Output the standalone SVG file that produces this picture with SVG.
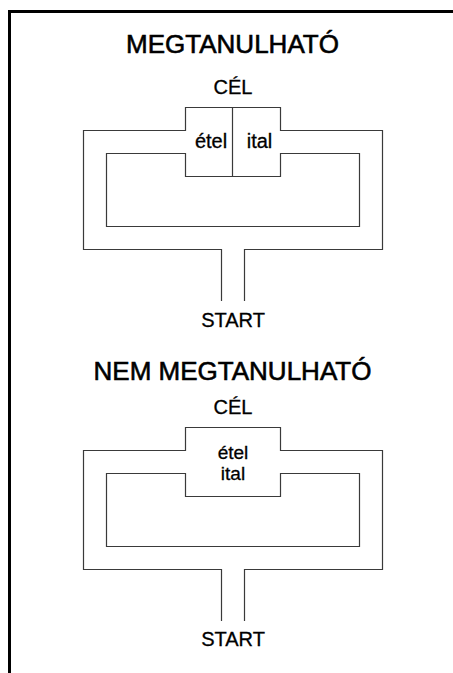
<svg xmlns="http://www.w3.org/2000/svg" width="453" height="673" viewBox="0 0 453 673">
<style>
text{font-family:"Liberation Sans",Arial,sans-serif;fill:#000;text-anchor:middle;stroke:#000}
.title{font-size:26px;stroke-width:0.6}
.lbl{font-size:20px;stroke-width:0.3}
.sm{font-size:19px}
.maze{fill:none;stroke:#3a3a3a;stroke-width:1.2}
.frame{fill:none;stroke:#000;stroke-width:3}
</style>
<rect width="453" height="673" fill="#fff"/>
<path class="frame" d="M9.5,673 V11.5 H453"/>
<g id="learnable">
<text class="title" x="232.5" y="52.5">MEGTANULHATÓ</text>
<text class="lbl" x="233" y="94">CÉL</text>
<g id="maze-top">
<path class="maze" d="M221.5,301 V249.5 H83.5 V130.5 H185.5 V107.5 H280.5 V130.5 H382.5 V249.5 H244.5 V301"/>
<path class="maze" d="M106.5,153.5 H185.5 V176.5 H280.5 V153.5 H359.5 V226.5 H106.5 Z"/>
<path class="maze" d="M232.5,107.5 V176.5"/>
</g>
<text class="lbl" x="211" y="148">étel</text>
<text class="lbl" x="259.5" y="148">ital</text>
<text class="lbl" x="233" y="326.5">START</text>
</g>
<g id="not-learnable">
<text class="title" x="232.5" y="380">NEM MEGTANULHATÓ</text>
<text class="lbl" x="233" y="414">CÉL</text>
<g id="maze-bottom">
<path class="maze" d="M221.5,621 V569.5 H83.5 V450.5 H185.5 V427.5 H280.5 V450.5 H382.5 V569.5 H244.5 V621"/>
<path class="maze" d="M106.5,473.5 H185.5 V496.5 H280.5 V473.5 H359.5 V546.5 H106.5 Z"/>
</g>
<text class="lbl sm" x="233" y="458.5">étel</text>
<text class="lbl sm" x="233" y="479.8">ital</text>
<text class="lbl" x="233" y="646">START</text>
</g>
</svg>
